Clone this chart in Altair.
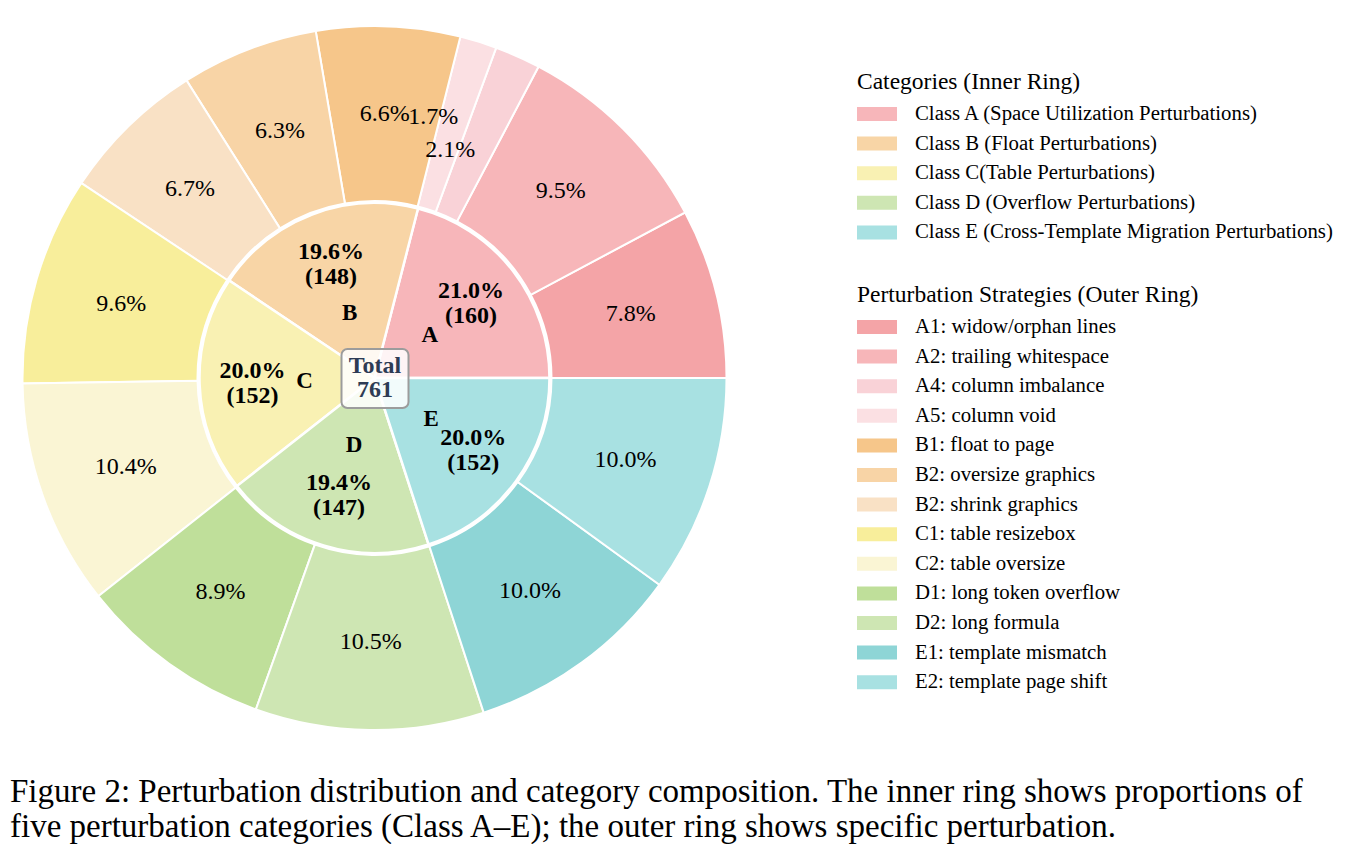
import math
import altair as alt
import pandas as pd

# ---------------- data ----------------
strategies = [
    "A1: widow/orphan lines", "A2: trailing whitespace", "A4: column imbalance", "A5: column void",
    "B1: float to page", "B2: oversize graphics", "B2: shrink graphics",
    "C1: table resizebox", "C2: table oversize",
    "D1: long token overflow", "D2: long formula",
    "E1: template mismatch", "E2: template page shift",
]
strategy_pct = [7.8, 9.5, 2.1, 1.7, 6.6, 6.3, 6.7, 9.6, 10.4, 8.9, 10.5, 10.0, 10.0]
strategy_colors = [
    "#F4A4A7", "#F7B6B9", "#F9D2D7", "#FBE0E3",
    "#F6C68A", "#F8D4A6", "#F9E1C5",
    "#F8EE9B", "#FAF5D4",
    "#BFDF9A", "#CEE6B3",
    "#8ED5D6", "#A8E1E2",
]

categories = [
    "Class A (Space Utilization Perturbations)",
    "Class B (Float Perturbations)",
    "Class C(Table Perturbations)",
    "Class D (Overflow Perturbations)",
    "Class E (Cross-Template Migration Perturbations)",
]
category_letters = ["A", "B", "C", "D", "E"]
category_pct = [21.0, 19.6, 20.0, 19.4, 20.0]
category_counts = [160, 148, 152, 147, 152]
category_colors = ["#F7B6BA", "#F8D5A6", "#F9F1B3", "#CEE6B3", "#A8E1E2"]

total_label = "Total"
total_count = 761

caption_lines = [
    "Figure 2: Perturbation distribution and category composition. The inner ring shows proportions of",
    "five perturbation categories (Class A\u2013E); the outer ring shows specific perturbation.",
]

# ---------------- tables ----------------
outer_df = pd.DataFrame({
    "strategy": strategies,
    "pct": strategy_pct,
    "idx": list(range(len(strategies))),
    "label": [f"{p:.1f}%" for p in strategy_pct],
})
inner_df = pd.DataFrame({
    "category": categories,
    "pct": category_pct,
    "idx": list(range(len(categories))),
    "letter": category_letters,
    "label": [f"{p:.1f}%\n({c})" for p, c in zip(category_pct, category_counts)],
})
center_df = pd.DataFrame({"label": [f"{total_label}\n{total_count}"]})

W, H = 749, 756
SERIF = "Liberation Serif"
theta_scale = alt.Scale(range=[math.pi / 2, math.pi / 2 - 2 * math.pi])
rect_symbol = "M-1,-0.35H1V0.35H-1Z"


def legend(title, y):
    return alt.Legend(
        title=title, orient="none", legendX=857, legendY=y,
        symbolType=rect_symbol, symbolSize=1600, symbolStrokeWidth=0,
        clipHeight=29, rowPadding=0.6, labelOffset=18,
        titleFont=SERIF, titleFontSize=23.5, titleFontWeight="normal", titleColor="black",
        titleLimit=800, titlePadding=6,
        labelFont=SERIF, labelFontSize=20.8, labelColor="black", labelLimit=800, padding=0,
    )


# ---------------- outer ring ----------------
outer_base = alt.Chart(outer_df).encode(
    theta=alt.Theta("pct:Q", stack=True, scale=theta_scale),
    order=alt.Order("idx:Q"),
)
outer_arc = outer_base.mark_arc(radius=352, radius2=177, stroke="white", strokeWidth=2).encode(
    color=alt.Color(
        "strategy:N",
        scale=alt.Scale(domain=strategies, range=strategy_colors),
        legend=legend("Perturbation Strategies (Outer Ring)", 283),
    )
)
small_test = "datum.strategy === 'A4: column imbalance' || datum.strategy === 'A5: column void'"
outer_text = outer_base.mark_text(radius=264, font=SERIF, fontSize=24, color="black").encode(
    text=alt.condition(small_test, alt.value(""), alt.Text("label:N"))
)
a4_text = outer_base.mark_text(radius=240, dx=-22, dy=-9, font=SERIF, fontSize=24, color="black").encode(
    text=alt.condition("datum.strategy === 'A4: column imbalance'", alt.Text("label:N"), alt.value(""))
)
a5_text = outer_base.mark_text(radius=267, dx=-20, dy=-6, font=SERIF, fontSize=24, color="black").encode(
    text=alt.condition("datum.strategy === 'A5: column void'", alt.Text("label:N"), alt.value(""))
)
outer_layer = alt.layer(outer_arc, outer_text, a4_text, a5_text)

# ---------------- inner ring ----------------
inner_base = alt.Chart(inner_df).encode(
    theta=alt.Theta("pct:Q", stack=True, scale=theta_scale),
    order=alt.Order("idx:Q"),
)
inner_arc = inner_base.mark_arc(radius=175, stroke="white", strokeWidth=2.5).encode(
    color=alt.Color(
        "category:N",
        scale=alt.Scale(domain=categories, range=category_colors),
        legend=legend("Categories (Inner Ring)", 70),
    )
)
inner_text = inner_base.mark_text(
    radius=122, dy=-12, font=SERIF, fontSize=24, fontWeight="bold", lineBreak="\n", lineHeight=25,
    color="black",
).encode(text="label:N")
inner_letter = inner_base.mark_text(
    radius=70, font=SERIF, fontSize=23, fontWeight="bold", color="black"
).encode(text="letter:N")
inner_layer = alt.layer(inner_arc, inner_text, inner_letter)

# ---------------- center box ----------------
box = alt.Chart(center_df).mark_rect(
    cornerRadius=6, fill="white", fillOpacity=0.85, stroke="#9c9c9c", strokeWidth=2
).encode(
    x=alt.value(W / 2 - 33), x2=alt.value(W / 2 + 34),
    y=alt.value(H / 2 - 29), y2=alt.value(H / 2 + 30),
)
center_text = alt.Chart(center_df).mark_text(
    font=SERIF, fontSize=24, fontWeight="bold", lineBreak="\n", lineHeight=24, dy=-13, color="#2E3C55"
).encode(text="label:N", x=alt.value(W / 2 + 0.5), y=alt.value(H / 2 + 0.5))

chart = alt.layer(outer_layer, inner_layer, box, center_text).resolve_scale(
    color="independent", theta="independent"
).properties(
    width=W, height=H, padding=0, background="white",
    title=alt.TitleParams(
        text=caption_lines, orient="bottom", anchor="start", font=SERIF, fontSize=33,
        fontWeight="normal", color="black", lineHeight=35, offset=20, dx=10,
    ),
).configure_view(stroke=None)

chart.save("out.html", embed_options={"renderer": "svg", "actions": False})
